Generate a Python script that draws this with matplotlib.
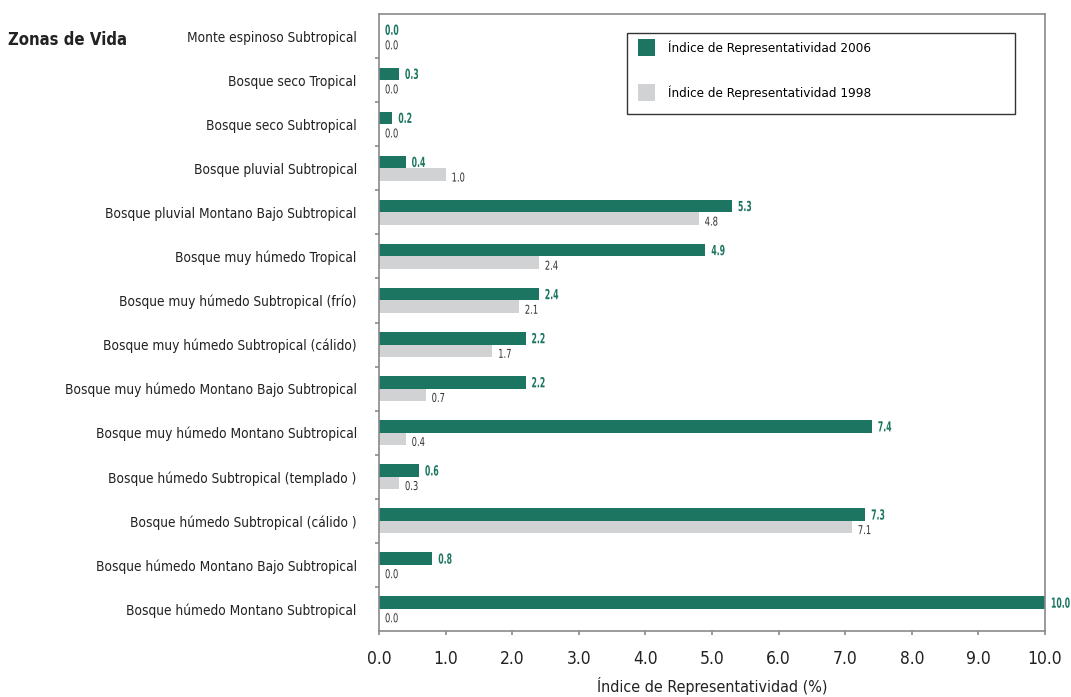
import numpy as np
import matplotlib
matplotlib.use("Agg")
import matplotlib.pyplot as plt
from matplotlib import font_manager, patheffects
from matplotlib.patches import Rectangle
from matplotlib.transforms import Affine2D

# fuente angosta si existe, si no DejaVu condensada
names = {f.name for f in font_manager.fontManager.ttflist}
narrow = "Liberation Sans Narrow" if "Liberation Sans Narrow" in names else "DejaVu Sans"
plt.rcParams["font.family"] = [narrow, "DejaVu Sans"]
plt.rcParams["font.stretch"] = "condensed"


class Angosto(patheffects.AbstractPathEffect):
    """Comprime el texto en x desde su borde izquierdo (cifras estrechas)."""

    def __init__(self, sx):
        super().__init__()
        self.sx = sx

    def draw_path(self, renderer, gc, tpath, affine, rgbFace=None):
        renderer.draw_path(gc, tpath, Affine2D().scale(self.sx, 1) + affine, rgbFace)


zonas = [
    "Monte espinoso Subtropical",
    "Bosque seco Tropical",
    "Bosque seco Subtropical",
    "Bosque pluvial Subtropical",
    "Bosque pluvial Montano Bajo Subtropical",
    "Bosque muy húmedo Tropical",
    "Bosque muy húmedo Subtropical (frío)",
    "Bosque muy húmedo Subtropical (cálido)",
    "Bosque muy húmedo Montano Bajo Subtropical",
    "Bosque muy húmedo Montano Subtropical",
    "Bosque húmedo Subtropical (templado )",
    "Bosque húmedo Subtropical (cálido )",
    "Bosque húmedo Montano Bajo Subtropical",
    "Bosque húmedo Montano Subtropical",
]
ir_2006 = [0.0, 0.3, 0.2, 0.4, 5.3, 4.9, 2.4, 2.2, 2.2, 7.4, 0.6, 7.3, 0.8, 10.0]
ir_1998 = [0.0, 0.0, 0.0, 1.0, 4.8, 2.4, 2.1, 1.7, 0.7, 0.4, 0.3, 7.1, 0.0, 0.0]
xticks = np.arange(0, 11, 1)

verde = "#1b7560"
gris = "#d1d2d4"
eje = "#8a8a8a"

fig = plt.figure(figsize=(10.71, 6.97), dpi=100)
ax = fig.add_axes([379 / 1071, 66 / 697, 666 / 1071, 617 / 697])

y = np.arange(len(zonas))
h = 0.285
ax.barh(y - h / 2, ir_2006, height=h, color=verde, label="Índice de Representatividad 2006")
ax.barh(y + h / 2, ir_1998, height=h, color=gris, label="Índice de Representatividad 1998")

for yi, v in zip(y, ir_2006):
    ax.annotate(f"{v:.1f}", xy=(v, yi - h / 2), xytext=(6, -1), textcoords="offset pixels",
                ha="left", va="center", fontsize=10, color=verde, fontweight="bold",
                path_effects=[Angosto(0.62)])
for yi, v in zip(y, ir_1998):
    ax.annotate(f"{v:.1f}", xy=(v, yi + h / 2), xytext=(6, -3.5), textcoords="offset pixels",
                ha="left", va="center", fontsize=8.8, color="#333333",
                path_effects=[Angosto(0.76)])

ax.set_xlim(0, 10)
ax.set_ylim(len(zonas) - 0.5, -0.5)
ax.set_xticks(xticks)
ax.set_xticklabels([f"{t:.1f}" for t in xticks], fontsize=12.5, color="#222222")
ax.set_yticks(y)
ax.set_yticklabels(zonas, fontsize=9.8, color="#222222")
ax.set_yticks(np.arange(0.5, len(zonas) - 0.5, 1), minor=True)
ax.tick_params(axis="y", which="major", length=0, pad=16)
ax.tick_params(axis="y", which="minor", length=3, color=eje, width=1.2, direction="out")
ax.tick_params(axis="x", length=3, color=eje, width=1.2, pad=10.5)

for s in ax.spines.values():
    s.set_color(eje)
    s.set_linewidth(1.2)

ax.set_xlabel("Índice de Representatividad (%)", fontsize=11.5, color="#222222", labelpad=7)

ax.legend(loc="upper left", bbox_to_anchor=(0.38, 0.969, 0.57, 0.0), mode="expand",
          borderaxespad=0, fontsize=9.6, handlelength=1.275, handleheight=1.585,
          handletextpad=1.0, labelspacing=2.1, borderpad=0.45, frameon=False)
# marco de la leyenda (más aire abajo que arriba)
ax.add_patch(Rectangle((0.3724, 0.838), 0.5826, 0.1313, transform=ax.transAxes,
                       fill=False, edgecolor="#333333", linewidth=1.0, zorder=5))

fig.text(8 / 1071, 1 - 40 / 697, "Zonas de Vida", ha="left", va="center",
         fontsize=12, fontweight="bold", color="#222222")

fig.savefig("out.png", dpi=100)
